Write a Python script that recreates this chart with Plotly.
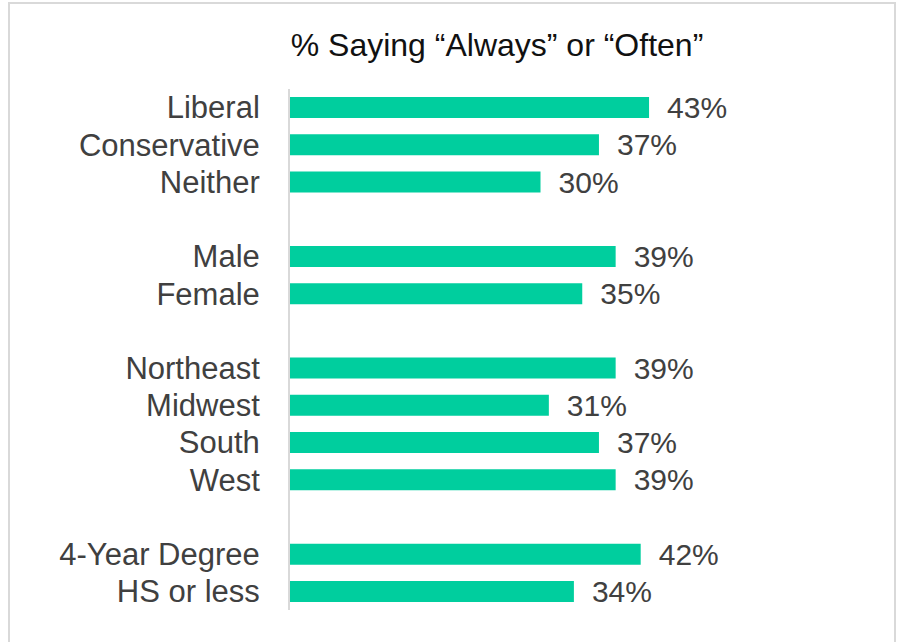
import plotly.graph_objects as go

categories = ["Liberal", "Conservative", "Neither", "",
              "Male", "Female", "",
              "Northeast", "Midwest", "South", "West", "",
              "4-Year Degree", "HS or less"]
values = [43, 37, 30, None,
          39, 35, None,
          39, 31, 37, 39, None,
          42, 34]
title_text = "% Saying \u201cAlways\u201d or \u201cOften\u201d"

positions = list(range(len(categories)))
bar_pos = [p for p, v in zip(positions, values) if v is not None]
bar_val = [v for v in values if v is not None]
tick_pos = bar_pos
tick_txt = [c for c, v in zip(categories, values) if v is not None]

W, H = 899, 642
ml, mr, mt, mb = 290, 108, 89.4, 32.4
pw = W - ml - mr
ph = H - mt - mb

def px_x(p):
    return (p - ml) / pw

def px_y(p):
    return (H - mb - p) / ph

FONT = "Liberation Sans, Arial, sans-serif"

fig = go.Figure()
fig.add_trace(go.Bar(
    x=bar_val, y=bar_pos, orientation="h",
    marker=dict(color="#00CE9E", line=dict(width=0)),
    width=0.565,
    text=[f"\u2002{v}%" for v in bar_val],
    textposition="outside",
    constraintext="none",
    textfont=dict(family=FONT, size=30, color="#404040"),
    cliponaxis=False,
    hoverinfo="skip",
))

fig.update_layout(
    width=W, height=H,
    margin=dict(l=ml, r=mr, t=mt, b=mb, pad=0),
    paper_bgcolor="white", plot_bgcolor="white",
    showlegend=False,
    uniformtext=dict(mode=False),
    title=dict(text=title_text, x=497 / W, xanchor="center", xref="container",
               y=1 - 45 / H, yanchor="middle", yref="container",
               font=dict(family=FONT, size=32, color="#111111")),
    xaxis=dict(range=[0, 60], showgrid=False, zeroline=False, showline=False,
               showticklabels=False, ticks="", fixedrange=True),
    yaxis=dict(range=[len(categories) - 0.5, -0.5], tickvals=tick_pos, ticktext=tick_txt,
               showgrid=False, zeroline=False, showline=True, linecolor="#D9D9D9", linewidth=2,
               ticks="outside", ticklen=0, ticklabelstandoff=22,
               tickfont=dict(family=FONT, size=31, color="#404040")),
    shapes=[dict(type="rect", xref="paper", yref="paper",
                 x0=px_x(9), x1=px_x(895), y0=px_y(660), y1=px_y(3.5),
                 line=dict(color="#D9D9D9", width=2), fillcolor="rgba(0,0,0,0)", layer="below")],
)

fig.write_html("out.html")
